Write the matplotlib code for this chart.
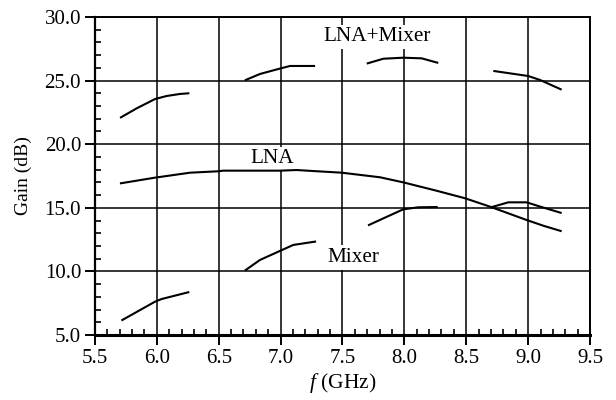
import matplotlib
matplotlib.use('Agg')
import matplotlib.pyplot as plt
from matplotlib.ticker import MultipleLocator, FormatStrFormatter

plt.rcParams['font.family'] = ['Liberation Serif', 'DejaVu Serif']
plt.rcParams['mathtext.fontset'] = 'custom'
plt.rcParams['mathtext.it'] = 'Liberation Serif:italic'
plt.rcParams['mathtext.rm'] = 'Liberation Serif'

# LNA gain (continuous)
lna_f = [5.71, 5.985, 6.268, 6.494, 6.537, 6.995, 7.13, 7.264, 7.494, 7.803,
         7.991, 8.261, 8.49, 8.692, 8.988, 9.123, 9.263]
lna_g = [16.93, 17.37, 17.76, 17.87, 17.92, 17.92, 17.97, 17.89, 17.76, 17.4,
         17.0, 16.34, 15.75, 15.09, 14.04, 13.59, 13.18]

# LNA+Mixer gain, four bands
lm_f = [[5.71, 5.837, 5.985, 6.079, 6.187, 6.254],
        [6.718, 6.833, 6.981, 7.076, 7.27],
        [7.704, 7.83, 7.991, 8.14, 8.266],
        [8.727, 9.001, 9.096, 9.263]]
lm_g = [[22.11, 22.82, 23.55, 23.79, 23.95, 24.0],
        [25.05, 25.52, 25.91, 26.15, 26.15],
        [26.36, 26.72, 26.8, 26.75, 26.41],
        [25.75, 25.36, 25.05, 24.32]]

# Mixer gain, four bands
mx_f = [[5.721, 5.985, 6.039, 6.254],
        [6.718, 6.833, 6.981, 7.102, 7.278],
        [7.714, 7.83, 7.991, 8.113, 8.261],
        [8.7, 8.84, 8.988, 9.082, 9.263]]
mx_g = [[6.18, 7.62, 7.83, 8.36],
        [10.11, 10.9, 11.55, 12.08, 12.34],
        [13.65, 14.17, 14.88, 15.04, 15.06],
        [15.04, 15.43, 15.43, 15.14, 14.61]]

fig = plt.figure(figsize=(6.16, 4.0), dpi=100)
ax = fig.add_axes([0.1542, 0.1625, 0.8036, 0.795])

ax.set_xlim(5.5, 9.5)
ax.set_ylim(5.0, 30.0)

# grid
ax.xaxis.set_major_locator(MultipleLocator(0.5))
ax.xaxis.set_minor_locator(MultipleLocator(0.1))
ax.yaxis.set_major_locator(MultipleLocator(5))
ax.yaxis.set_minor_locator(MultipleLocator(1))
ax.xaxis.set_major_formatter(FormatStrFormatter('%.1f'))
ax.yaxis.set_major_formatter(FormatStrFormatter('%.1f'))
ax.grid(which='major', color='black', linewidth=1.1, zorder=1)
ax.set_axisbelow(True)

# curves
lw = 1.5
ax.plot(lna_f, lna_g, color='black', linewidth=lw, zorder=3)
for f, g in zip(lm_f, lm_g):
    ax.plot(f, g, color='black', linewidth=lw, zorder=3)
for f, g in zip(mx_f, mx_g):
    ax.plot(f, g, color='black', linewidth=lw, zorder=3)

# labels with white boxes that break the grid
box = dict(facecolor='white', edgecolor='none', pad=2)
ax.text(7.779, 28.43, 'LNA+Mixer', fontsize=15.3, ha='center', va='center', bbox=box, zorder=2)
ax.text(6.93, 18.84, 'LNA', fontsize=15.3, ha='center', va='center', bbox=box, zorder=2)
ax.text(7.589, 11.08, 'Mixer', fontsize=15.3, ha='center', va='center', bbox=box, zorder=2)

# spines and ticks
ax.spines['bottom'].set_linewidth(2.2)
ax.spines['left'].set_linewidth(1.6)
ax.spines['top'].set_linewidth(1.4)
ax.spines['right'].set_linewidth(1.4)
ax.tick_params(which='major', direction='out', length=7, width=1.4, labelsize=15, pad=3)
ax.tick_params(which='minor', direction='in', length=4, width=1.2)
ax.tick_params(top=False, right=False, which='both')

ax.set_xlabel(r'$f$ (GHz)', fontsize=15.5, labelpad=2)
ax.set_ylabel('Gain (dB)', fontsize=14, labelpad=9)

plt.savefig('out.png', dpi=100)
